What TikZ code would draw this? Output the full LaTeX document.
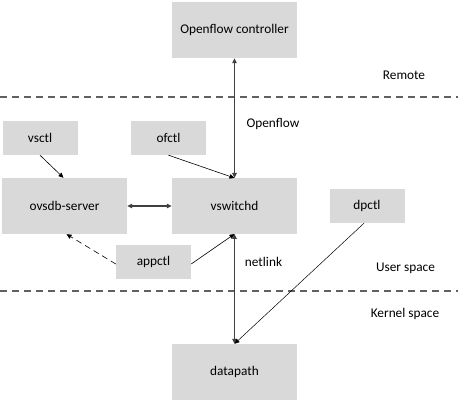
\documentclass[tikz,border=0pt]{standalone}
\usepackage{fontspec}
\setmainfont{Carlito}
\usetikzlibrary{arrows.meta}
\definecolor{boxgray}{HTML}{D9D9D9}
\definecolor{linegray}{HTML}{404040}
\definecolor{dashgray}{HTML}{606060}
\begin{document}
\begin{tikzpicture}[x=1pt,y=-1pt,
  box/.style={fill=boxgray,draw=none,inner sep=0pt,font=\fontsize{13.3}{15}\selectfont},
  bigbox/.style={box,minimum width=125pt,minimum height=56pt},
  smallbox/.style={box,minimum width=75pt,minimum height=34pt},
  lbl/.style={font=\fontsize{13.3}{15}\selectfont,inner sep=0pt},
  tip/.style={-{Triangle[length=5pt,width=4.5pt]}},
  dtip/.style={{Triangle[length=5pt,width=4.5pt]}-{Triangle[length=5pt,width=4.5pt]}},
  conn/.style={draw=black,line width=0.6pt},
  thick conn/.style={draw=linegray,line width=1.3pt},
  sep/.style={draw=dashgray,line width=1.1pt,dash pattern=on 7pt off 5pt}]
\useasboundingbox (0,0) rectangle (458,403);
\node[bigbox] (ctrl) at (234.5,30) {Openflow controller};
\node[smallbox] (vsctl) at (40,138) {vsctl};
\node[smallbox] (ofctl) at (168.5,138) {ofctl};
\node[bigbox] (ovsdb) at (64.5,206) {ovsdb-server};
\node[bigbox] (vsw) at (234.5,206) {vswitchd};
\node[smallbox] (dpctl) at (367,206) {dpctl};
\node[smallbox] (appctl) at (153.5,262) {appctl};
\node[bigbox] (dp) at (234.5,372) {datapath};
\node[lbl] (remote) at (404,75) {Remote};
\node[lbl] (ofl) at (273,124) {Openflow};
\node[lbl] (nl) at (263.5,262) {netlink};
\node[lbl] (user) at (405.5,268) {User space};
\node[lbl] (kernel) at (405,314) {Kernel space};
\coordinate (l1a) at (0,97); \coordinate (l1b) at (458,97);
\coordinate (l2a) at (0,291); \coordinate (l2b) at (458,291);
\draw[sep] (l1a) -- (l1b);
\draw[sep] (l2a) -- (l2b);
\coordinate (vtop) at (234.5,178);
\coordinate (vbot) at (234.5,234);
\draw[thick conn,dtip] (ctrl.south) -- (vtop);
\draw[thick conn,dtip] (vbot) -- (dp.north);
\draw[thick conn,dtip] (ovsdb.east) -- (vsw.west);
\draw[conn,tip] ([xshift=0pt]vsctl.south) -- ([xshift=-1pt]ovsdb.north);
\draw[conn,tip] (ofctl.south) -- (vtop);
\draw[conn,tip] ([yshift=-2pt]appctl.east) -- (vbot);
\draw[conn,tip,dashed,dash pattern=on 6pt off 4pt] ([yshift=-2pt]appctl.west) -- ([xshift=2pt]ovsdb.south);
\draw[conn,tip,line width=0.5pt] ([xshift=-3pt]dpctl.south) -- (dp.north);
\end{tikzpicture}
\end{document}
